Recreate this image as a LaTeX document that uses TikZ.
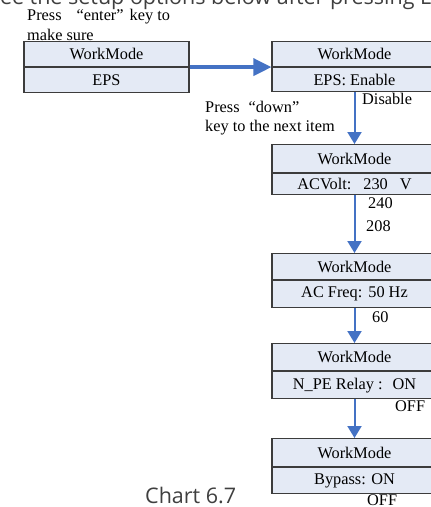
\documentclass[tikz,border=0pt]{standalone}
\usepackage{fontspec}
\setmainfont{Liberation Serif}
\newfontfamily\chartfont{Open Sans}
\usepackage{xcolor}
\usetikzlibrary{positioning,arrows.meta}
\definecolor{panelfill}{HTML}{E4EAF5}
\definecolor{panelline}{HTML}{3C3C3C}
\definecolor{flowblue}{HTML}{4472C4}
\definecolor{captiongray}{HTML}{3F3F3F}

\begin{document}
\begin{tikzpicture}[x=1pt,y=-1pt,
  panel/.style={draw=panelline,fill=panelfill,line width=1.1pt,minimum width=165pt,
    inner sep=0pt,font=\fontsize{16.3}{18}\selectfont},
  note/.style={inner sep=0pt,align=left},
  flow/.style={draw=flowblue,line width=2pt,-{Triangle[width=14pt,length=12pt]}},
  bigflow/.style={draw=flowblue,line width=3.5pt,-{Triangle[width=17pt,length=18pt]}},
  chart/.style={inner sep=0pt,text=captiongray,font=\chartfont\fontsize{21.5}{24}\selectfont}]
  \useasboundingbox (0,0) rectangle (431,507);
  % texts round the boxes
  \node[chart,anchor=base west] (head) at (-12,4) {See the setup options below after pressing E};
  \node[note,anchor=north west,font=\fontsize{16.3}{20}\selectfont] (enter) at (27,9)
    {Press\hspace{15pt}“enter”\hspace{6pt}key to\\make sure};
  \node[note,anchor=north west,font=\fontsize{16.3}{19}\selectfont] (down) at (205,101)
    {Press\hspace{9pt}“down”\\key to the next item};
  % left box
  \node[panel,minimum height=25pt,anchor=north] (eps) at (106.5,41) {WorkMode};
  \node[panel,minimum height=25pt,below=0pt of eps] (epsval) {EPS};
  % right column
  \node[panel,minimum height=25pt,anchor=north] (enable) at (354.5,41) {WorkMode};
  \node[panel,minimum height=24pt,below=0pt of enable] (enableval) {EPS: Enable};
  \node[panel,minimum height=28pt,anchor=north] (volt) at (354.5,144) {WorkMode};
  \node[panel,minimum height=21pt,below=0pt of volt] (voltval) {ACVolt:\hspace{12pt}230\hspace{12pt}V};
  \node[panel,minimum height=26pt,anchor=north] (freq) at (354.5,253) {WorkMode};
  \node[panel,minimum height=27pt,below=0pt of freq] (freqval) {AC Freq:\hspace{6pt}50 Hz};
  \node[panel,minimum height=27pt,anchor=north] (relay) at (354.5,343) {WorkMode};
  \node[panel,minimum height=27pt,below=0pt of relay] (relayval) {N\_PE Relay :\hspace{10pt}ON};
  \node[panel,minimum height=28pt,anchor=north] (bypass) at (354.5,438) {WorkMode};
  \node[panel,minimum height=26pt,below=0pt of bypass] (bypassval) {Bypass: ON};
  % other options
  \begin{scope}[every node/.style={inner sep=0pt,anchor=base west,font=\fontsize{16.3}{18}\selectfont}]
    \node (disable) at (362,104) {Disable};
    \node (v240) at (368,208) {240};
    \node (v208) at (366,231) {208};
    \node (f60) at (372,322) {60};
    \node (relayoff) at (395,411) {OFF};
    \node (bypassoff) at (367,505) {OFF};
  \end{scope}
  \node[chart,anchor=base west] (caption) at (145,503) {Chart 6.7};
  % connectors
  \path[bigflow] (eps.south east) -- (enable.south west);
  \path[flow] (enableval.south) -- (volt.north);
  \path[flow] (voltval.south) -- (freq.north);
  \path[flow] (freqval.south) -- (relay.north);
  \path[flow] (relayval.south) -- (bypass.north);
\end{tikzpicture}
\end{document}
